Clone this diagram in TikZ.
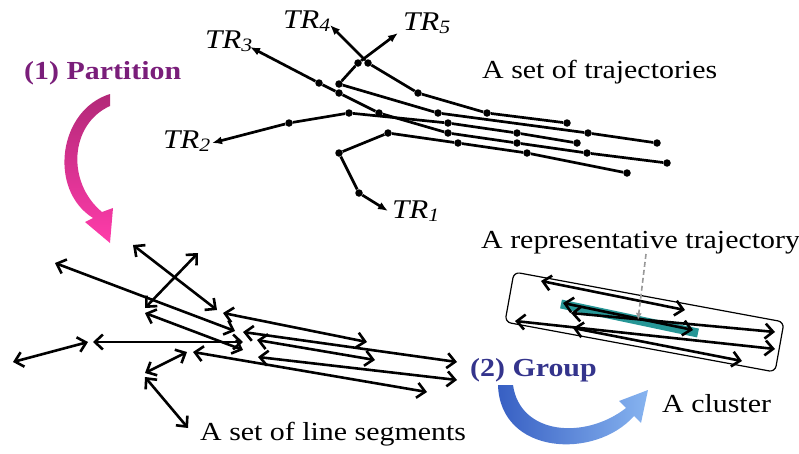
\documentclass[tikz,border=0pt]{standalone}
\usepackage{fontspec}
\setmainfont{Liberation Serif}[FakeStretch=1.15]
\usetikzlibrary{arrows.meta}
\definecolor{partcol}{RGB}{122,30,122}
\definecolor{grpcol}{RGB}{52,52,140}
\definecolor{repcol}{RGB}{38,150,150}
\tikzset{
  dot/.style={circle,fill,inner sep=0pt,minimum size=7.5pt},
  traj/.style={line width=2.7pt,-{Latex[length=10pt,width=8pt]}},
  seg/.style={line width=2.6pt,{Straight Barb[length=8pt,width=15pt]}-{Straight Barb[length=8pt,width=15pt]}},
  lbl/.style={font=\fontsize{26}{30}\selectfont,inner sep=0pt,anchor=base west},
  trlbl/.style={font=\fontsize{27}{30}\selectfont\itshape,inner sep=0pt,anchor=base west}
}
\newcommand{\trname}[1]{TR\textsubscript{#1}}
\begin{document}
\begin{tikzpicture}[x=1pt,y=-1pt]
  \useasboundingbox (0,0) rectangle (799,453);
  % trajectories
  \coordinate (r1t) at (388,211);
  \coordinate (r2t) at (212,143);
  \coordinate (r3t) at (250,47);
  \coordinate (r4t) at (330,25);
  \coordinate (r5t) at (398,33);
  \foreach \n/\x/\y in {r1a/359/193,r1b/339/153,r1c/388/133,r1d/458/143,r1e/527/153,r1f/627/173,
      r2a/289/123,r2b/349/113,r2c/448/123,r2d/517/133,r2e/577/143,
      r3a/319/83,r3b/339/93,r3c/379/113,r3d/448/133,r3e/517/143,r3f/587/153,r3g/667/163,
      r4a/368/63,r4b/418/93,r4c/487/113,r4d/567/123,
      r5a/358/63,r5b/339/84,r5c/438/113,r5d/588/133,r5e/657/143}
    \node[dot] (\n) at (\x,\y) {};
  \draw[traj] (r1f) -- (r1e) -- (r1d) -- (r1c) -- (r1b) -- (r1a) -- (r1t);
  \draw[traj] (r2e) -- (r2d) -- (r2c) -- (r2b) -- (r2a) -- (r2t);
  \draw[traj] (r3g) -- (r3f) -- (r3e) -- (r3d) -- (r3c) -- (r3b) -- (r3a) -- (r3t);
  \draw[traj] (r4d) -- (r4c) -- (r4b) -- (r4a) -- (r4t);
  \draw[traj] (r5e) -- (r5d) -- (r5c) -- (r5b) -- (r5a) -- (r5t);
  \node[trlbl] (tr1) at (392,218) {\trname{1}};
  \node[trlbl] (tr2) at (163,148) {\trname{2}};
  \node[trlbl] (tr3) at (205,48) {\trname{3}};
  \node[trlbl] (tr4) at (283,28) {\trname{4}};
  \node[trlbl] (tr5) at (403,30) {\trname{5}};
  \node[lbl] (trajs) at (482,78) {A set of trajectories};
  % line segments
  \foreach \i/\ax/\ay/\bx/\by in {1/55/263/235/331,2/133/245/217/310,3/198/253/145/308,
      4/145/313/243/350,5/13/362/88/342,6/93/342/243/342,7/145/373/187/352,
      8/145/377/188/428,9/193/352/427/392,10/223/313/367/342,11/243/332/457/362,
      12/257/340/375/360,13/258/357/457/380}
  {
    \coordinate (s\i-a) at (\ax,\ay);
    \coordinate (s\i-b) at (\bx,\by);
    \draw[seg] (s\i-a) -- (s\i-b);
  }
  \node[lbl] (segs) at (200,440) {A set of line segments};
  % cluster
  \draw[line width=1.2pt,rounded corners=6pt] (514,272) -- (784,322) -- (775,372) -- (505,322) -- cycle;
  \coordinate (rep-a) at (561,304);
  \coordinate (rep-b) at (698,333);
  \draw[line width=9pt,repcol] (rep-a) -- (rep-b);
  \foreach \i/\ax/\ay/\bx/\by in {1/541/281/685/310,2/563/303/693/330,3/571/313/775/332,
      4/515/321/775/349,5/573/328/742/361}
  {
    \coordinate (k\i-a) at (\ax,\ay);
    \coordinate (k\i-b) at (\bx,\by);
    \draw[seg] (k\i-a) -- (k\i-b);
  }
  \node[lbl] (replbl) at (481,248) {A representative trajectory};
  \coordinate (rep-from) at (646,254);
  \coordinate (rep-to) at (638,320);
  \draw[gray!80,line width=1.6pt,dash pattern=on 5pt off 3pt,-{Latex[length=7pt,width=6pt]}] (rep-from) -- (rep-to);
  \node[lbl] (clus) at (662,412) {A cluster};
  % steps
  \node[lbl,font=\fontsize{26}{30}\selectfont\bfseries,text=partcol] (part) at (24,79) {(1) Partition};
  \node[lbl,font=\fontsize{26}{30}\selectfont\bfseries,text=grpcol] (grp) at (470,376) {(2) Group};
  \shade[top color={rgb,255:red,178;green,40;blue,120},bottom color={rgb,255:red,255;green,60;blue,170}]
    (110,94) .. controls (58,110) and (48,190) .. (93,218) -- (85,222) -- (110,243) -- (113,208)
    -- (102,212) .. controls (66,182) and (70,124) .. (110,106) -- cycle;
  \shade[left color={rgb,255:red,55;green,95;blue,195},right color={rgb,255:red,135;green,180;blue,240}]
    (498,385) -- (513,385) .. controls (520,435) and (585,440) .. (626,408) -- (619,401) -- (648,390)
    -- (641,423) -- (634,416) .. controls (595,460) and (500,455) .. (498,385) -- cycle;
\end{tikzpicture}
\end{document}
